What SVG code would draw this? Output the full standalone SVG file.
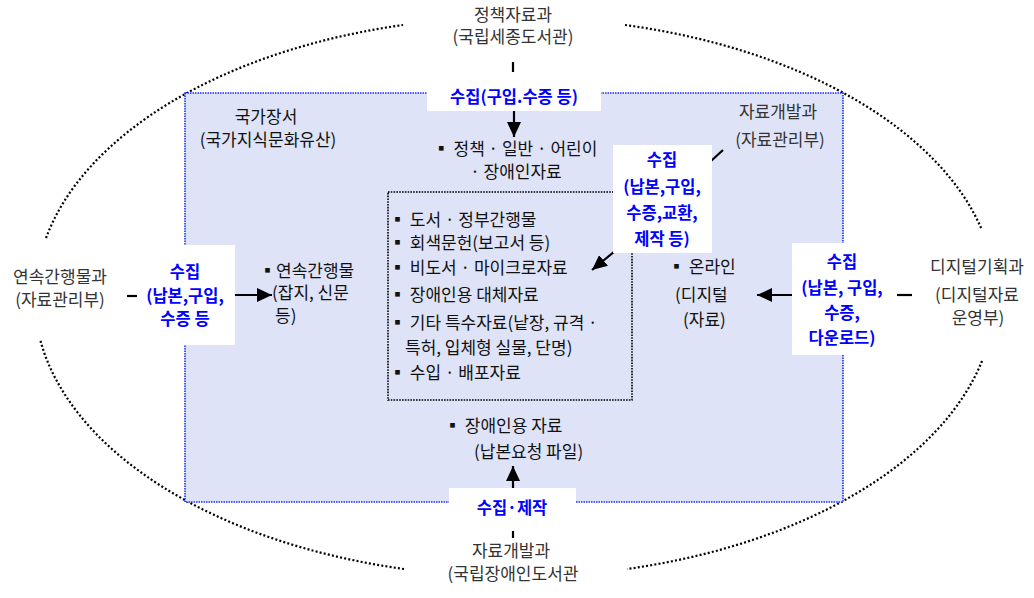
<svg xmlns="http://www.w3.org/2000/svg" width="1034" height="598" viewBox="0 0 1034 598">
<style>
.outer{font-family:"Noto Sans CJK KR","Noto Sans",sans-serif;font-size:17px;fill:#333;text-anchor:middle}
.body{font-family:"Noto Sans CJK KR","Noto Sans",sans-serif;font-size:17px;fill:#111}
.mid{text-anchor:middle}
.blue{font-family:"Noto Sans CJK KR","Noto Sans",sans-serif;font-size:16.5px;font-weight:bold;fill:#0000ff;text-anchor:middle}
.ell{fill:none;stroke:#000;stroke-width:2.2;stroke-dasharray:2 2.2}
.lbl{fill:#fff;stroke:none}
.conn{stroke:#000;stroke-width:2.2;fill:none}
</style>
<defs>
<marker id="ah" markerUnits="userSpaceOnUse" markerWidth="16" markerHeight="14" refX="15" refY="7" orient="auto">
<path d="M0,0 L15,7 L0,14 Z" fill="#000"/>
</marker>
</defs>

<g id="ellipse">
<path class="ell" d="M46,238 A481,280 0 0 1 403,25"/>
<path class="ell" d="M625,25 A481,280 0 0 1 982,230"/>
<path class="ell" d="M982,361 A481,280 0 0 1 627,569"/>
<path class="ell" d="M404,569 A481,280 0 0 1 40,339"/>
</g>

<g id="collection">
<rect x="185" y="93" width="658" height="409" fill="#dfe3f7" stroke="#1a2fff" stroke-width="1.6" stroke-dasharray="1.5 1"/>
<text class="body mid" x="266" y="123">국가장서</text>
<text class="body mid" x="268" y="146">(국가지식문화유산)</text>
</g>

<g id="policy-items">
<text class="body mid" x="515" y="155">▪ 정책 · 일반 · 어린이</text>
<text class="body mid" x="516" y="178">· 장애인자료</text>
</g>

<g id="core-box">
<rect x="388" y="192" width="244" height="208" fill="none" stroke="#000" stroke-width="1.6" stroke-dasharray="1.6 1.2"/>
<g class="body">
<text x="389" y="226">▪ 도서 · 정부간행물</text>
<text x="389" y="249">▪ 회색문헌(보고서 등)</text>
<text x="389" y="274">▪ 비도서 · 마이크로자료</text>
<text x="389" y="301">▪ 장애인용 대체자료</text>
<text x="389" y="329">▪ 기타 특수자료(낱장, 규격 ·</text>
<text x="405" y="354">특허, 입체형 실물, 단명)</text>
<text x="389" y="379">▪ 수입 · 배포자료</text>
</g>
</g>

<g id="serials">
<text class="body" x="259" y="277">▪연속간행물</text>
<text class="body" x="272" y="299">(잡지, 신문</text>
<text class="body" x="275" y="322">등)</text>
</g>

<g id="online">
<text class="body" x="668" y="273">▪ 온라인</text>
<text class="body" x="675" y="301">(디지털</text>
<text class="body" x="683" y="326">(자료)</text>
</g>

<g id="disabled-items">
<text class="body" x="444" y="432">▪ 장애인용 자료</text>
<text class="body" x="474" y="458">(납본요청 파일)</text>
</g>

<g id="connectors">
<line class="conn" x1="513" y1="62" x2="513" y2="72" stroke-width="2.6"/>
<line class="conn" x1="514" y1="111" x2="514" y2="137" marker-end="url(#ah)"/>
<line class="conn" x1="127" y1="296" x2="137" y2="296" stroke-width="2.6"/>
<line class="conn" x1="235" y1="295" x2="272" y2="295" marker-end="url(#ah)"/>
<line class="conn" x1="912" y1="295" x2="897" y2="295" stroke-width="2.6"/>
<line class="conn" x1="792" y1="295" x2="757" y2="295" marker-end="url(#ah)"/>
<line class="conn" x1="615" y1="251" x2="592" y2="270" marker-end="url(#ah)"/>
<line class="conn" x1="723" y1="150" x2="711" y2="161" stroke-width="3"/>
<line class="conn" x1="513" y1="488" x2="513" y2="466" marker-end="url(#ah)"/>
<line class="conn" x1="513" y1="531" x2="513" y2="538" stroke-width="2.6"/>
</g>

<g id="label-top">
<rect class="lbl" x="427" y="80" width="174" height="31"/>
<text class="blue" x="514" y="103">수집(구입.수증 등)</text>
</g>
<g id="label-upper-right">
<rect class="lbl" x="613" y="145" width="99" height="108"/>
<text class="blue" x="662" y="166">수집</text>
<text class="blue" x="662" y="193">(납본,구입,</text>
<text class="blue" x="662" y="219">수증,교환,</text>
<text class="blue" x="662" y="245">제작 등)</text>
</g>
<g id="label-left">
<rect class="lbl" x="137" y="245" width="98" height="100"/>
<text class="blue" x="185" y="278">수집</text>
<text class="blue" x="185" y="302">(납본,구입,</text>
<text class="blue" x="185" y="325">수증 등</text>
</g>
<g id="label-right">
<rect class="lbl" x="792" y="243" width="101" height="112"/>
<text class="blue" x="842" y="268">수집</text>
<text class="blue" x="842" y="294">(납본, 구입,</text>
<text class="blue" x="842" y="319">수증,</text>
<text class="blue" x="842" y="344">다운로드)</text>
</g>
<g id="label-bottom">
<rect class="lbl" x="449" y="488" width="127" height="42"/>
<text class="blue" x="512" y="514">수집·제작</text>
</g>

<g id="dept-top">
<text class="outer" x="513" y="21">정책자료과</text>
<text class="outer" x="513" y="43">(국립세종도서관)</text>
</g>
<g id="dept-inner">
<text class="outer" x="778" y="118">자료개발과</text>
<text class="outer" x="780" y="146">(자료관리부)</text>
</g>
<g id="dept-left">
<text class="outer" x="60" y="283">연속간행물과</text>
<text class="outer" x="60" y="306">(자료관리부)</text>
</g>
<g id="dept-right">
<text class="outer" x="977" y="273">디지털기획과</text>
<text class="outer" x="977" y="301">(디지털자료</text>
<text class="outer" x="978" y="324">운영부)</text>
</g>
<g id="dept-bottom">
<text class="outer" x="511" y="557">자료개발과</text>
<text class="outer" x="513" y="580">(국립장애인도서관</text>
</g>
</svg>
